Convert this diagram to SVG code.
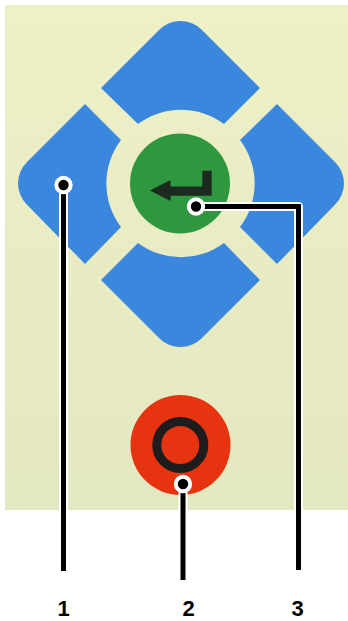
<svg xmlns="http://www.w3.org/2000/svg" width="348" height="621" viewBox="0 0 348 621">
<style>
.key{fill:#3b87dd}
.halo{fill:none;stroke:#fff;stroke-width:9;stroke-linejoin:round}
.line{fill:none;stroke:#000;stroke-width:5;stroke-linejoin:miter}
.ring{fill:#000;stroke:#fff;stroke-width:4}
.num{font-family:"Liberation Sans",Arial,sans-serif;font-weight:700;font-size:22px;fill:#000;text-anchor:middle}
</style>
<defs>
<linearGradient id="bg" x1="0" y1="0" x2="0" y2="1">
<stop offset="0" stop-color="#eef1c6"/>
<stop offset="0.5" stop-color="#e9ecc3"/>
<stop offset="1" stop-color="#e4e8c0"/>
</linearGradient>
</defs>
<rect width="348" height="621" fill="#fff"/>
<rect x="5" y="5" width="343" height="505" fill="url(#bg)"/>
<g id="key-up"><path class="key" d="M101 88L159.3 29.7A30 30 0 0 1 201.7 29.7L260 88L224 124A72 72 0 0 0 138 124Z"/></g>
<g id="key-down"><path class="key" d="M101 280L159.3 338.300A30 30 0 0 0 201.700 338.300L260 280L224 243A72 72 0 0 1 138 243Z"/></g>
<g id="key-left"><path class="key" d="M85 104L26.800 162.200A30 30 0 0 0 26.800 204.600L85 264L121 227A72 72 0 0 1 121 140Z"/></g>
<g id="key-right"><path class="key" d="M277 104L335.200 162.200A30 30 0 0 1 335.200 204.600L277 264L240 227A72 72 0 0 0 240 140Z"/></g>
<g id="key-enter">
<circle cx="180" cy="183.500" r="50" fill="#2f983f"/>
<path d="M150 190.500L170.500 180V186.500H202.300V170.700H211.700V195.700H170.500V201Z" fill="#1c2a20"/>
</g>
<g id="key-stop">
<circle cx="180.500" cy="445" r="50" fill="#e5340f"/>
<circle cx="180.300" cy="445" r="23.500" fill="none" stroke="#1e1c1c" stroke-width="9"/>
</g>
<g id="connectors">
<path class="halo" d="M63.500 185V571"/>
<path class="halo" d="M196 206.500H298.500V570"/>
<path class="halo" d="M183 484V580"/>
<path class="line" d="M63.500 185V571"/>
<path class="line" d="M196 206.500H298.500V570"/>
<path class="line" d="M183 484V580"/>
<circle class="ring" cx="63.500" cy="185" r="7.200"/>
<circle class="ring" cx="196" cy="206.500" r="7.200"/>
<circle class="ring" cx="183" cy="484" r="7.200"/>
</g>
<g id="label-1"><text class="num" x="63.500" y="616.300">1</text></g>
<g id="label-2"><text class="num" x="188.500" y="616.300">2</text></g>
<g id="label-3"><text class="num" x="297.500" y="616.300">3</text></g>
</svg>
